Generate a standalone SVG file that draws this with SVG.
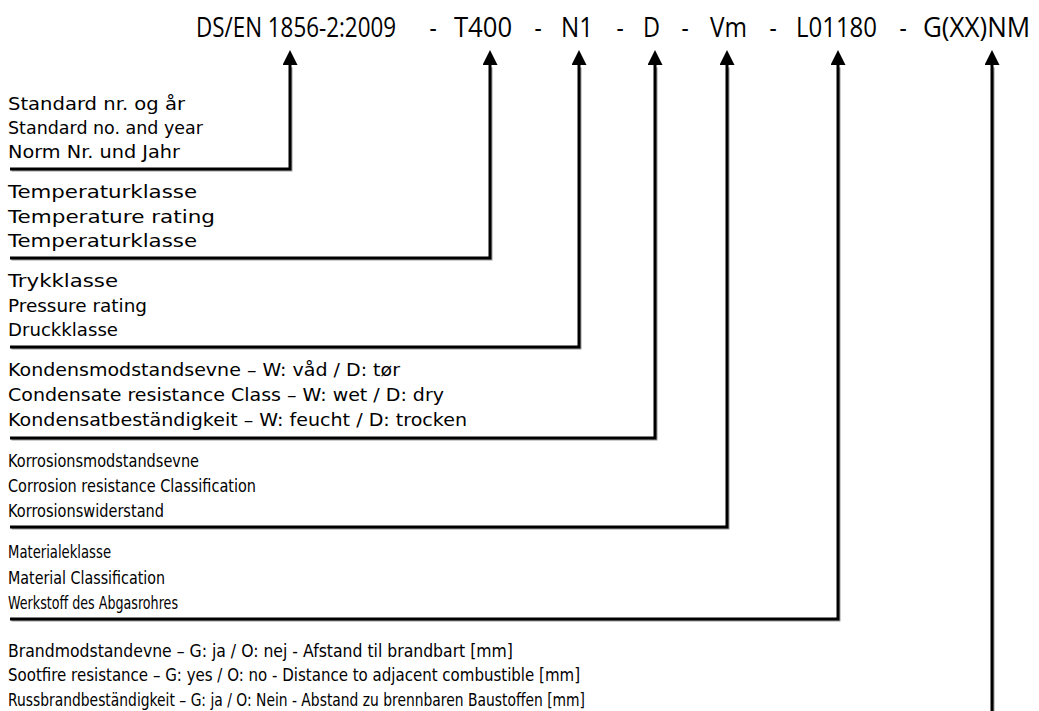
<svg xmlns="http://www.w3.org/2000/svg" width="1039" height="711" viewBox="0 0 1039 711">
<style>
.t{font-family:"Open Sans","Liberation Sans",sans-serif;font-size:27px;fill:#000}
.d{text-anchor:middle}
.l{font-family:"DejaVu Sans","Liberation Sans",sans-serif;font-size:17px;fill:#000}
.c{fill:none;stroke:#000;stroke-width:3}
.s{fill:none;stroke:#9a9a9a;stroke-width:2}
</style>
<defs>
<marker id="ah" viewBox="0 -7.5 15 15" refX="0" refY="0" markerWidth="15" markerHeight="15" markerUnits="userSpaceOnUse" orient="auto">
<path d="M0,-7.5 L15,0 L0,7.5 z" fill="#000"/>
</marker>
</defs>
<rect width="1039" height="711" fill="#fff"/>
<g id="title">
<text class="t" transform="translate(196,37) scale(0.83,1)" textLength="241" lengthAdjust="spacingAndGlyphs">DS/EN 1856-2:2009</text>
<text class="t d" transform="translate(433,37) scale(0.83,1)">-</text>
<text class="t" transform="translate(454,37) scale(0.83,1)" textLength="70" lengthAdjust="spacingAndGlyphs">T400</text>
<text class="t d" transform="translate(538,37) scale(0.83,1)">-</text>
<text class="t" transform="translate(561,37) scale(0.83,1)" textLength="38.6" lengthAdjust="spacingAndGlyphs">N1</text>
<text class="t d" transform="translate(620,37) scale(0.83,1)">-</text>
<text class="t" transform="translate(643,37) scale(0.83,1)" textLength="20.5" lengthAdjust="spacingAndGlyphs">D</text>
<text class="t d" transform="translate(685,37) scale(0.83,1)">-</text>
<text class="t" transform="translate(710,37) scale(0.83,1)" textLength="44.6" lengthAdjust="spacingAndGlyphs">Vm</text>
<text class="t d" transform="translate(773,37) scale(0.83,1)">-</text>
<text class="t" transform="translate(796,37) scale(0.83,1)" textLength="97.6" lengthAdjust="spacingAndGlyphs">L01180</text>
<text class="t d" transform="translate(903,37) scale(0.83,1)">-</text>
<text class="t" transform="translate(923,37) scale(0.83,1)" textLength="129" lengthAdjust="spacingAndGlyphs">G(XX)NM</text>
</g>
<g id="connectors">
<g transform="translate(1.5,1.5)">
<path class="s" d="M10,169 H290 V66"/>
<path class="s" d="M10,258 H490 V66"/>
<path class="s" d="M10,347 H579 V66"/>
<path class="s" d="M10,438 H655 V66"/>
<path class="s" d="M10,527 H727 V66"/>
<path class="s" d="M10,619 H838 V66"/>
<path class="s" d="M992,711 V66"/>
</g>
<path class="c" d="M10,169 H290 V65" marker-end="url(#ah)"/>
<path class="c" d="M10,258 H490 V65" marker-end="url(#ah)"/>
<path class="c" d="M10,347 H579 V65" marker-end="url(#ah)"/>
<path class="c" d="M10,438 H655 V65" marker-end="url(#ah)"/>
<path class="c" d="M10,527 H727 V65" marker-end="url(#ah)"/>
<path class="c" d="M10,619 H838 V65" marker-end="url(#ah)"/>
<path class="c" d="M992,711 V65" marker-end="url(#ah)"/>
</g>
<g id="n1">
<text class="l" x="8" y="110" textLength="177" lengthAdjust="spacingAndGlyphs">Standard nr. og år</text>
<text class="l" x="8" y="134" textLength="195" lengthAdjust="spacingAndGlyphs">Standard no. and year</text>
<text class="l" x="8" y="158" textLength="172" lengthAdjust="spacingAndGlyphs">Norm Nr. und Jahr</text>
</g>
<g id="n2">
<text class="l" x="8" y="198" textLength="189" lengthAdjust="spacingAndGlyphs">Temperaturklasse</text>
<text class="l" x="8" y="223" textLength="207" lengthAdjust="spacingAndGlyphs">Temperature rating</text>
<text class="l" x="8" y="247" textLength="189" lengthAdjust="spacingAndGlyphs">Temperaturklasse</text>
</g>
<g id="n3">
<text class="l" x="8" y="287" textLength="110" lengthAdjust="spacingAndGlyphs">Trykklasse</text>
<text class="l" x="8" y="312" textLength="139" lengthAdjust="spacingAndGlyphs">Pressure rating</text>
<text class="l" x="8" y="336" textLength="110" lengthAdjust="spacingAndGlyphs">Druckklasse</text>
</g>
<g id="n4">
<text class="l" x="8" y="376" textLength="392" lengthAdjust="spacingAndGlyphs">Kondensmodstandsevne – W: våd / D: tør</text>
<text class="l" x="8" y="401" textLength="436" lengthAdjust="spacingAndGlyphs">Condensate resistance Class – W: wet / D: dry</text>
<text class="l" x="8" y="426" textLength="459" lengthAdjust="spacingAndGlyphs">Kondensatbeständigkeit – W: feucht / D: trocken</text>
</g>
<g id="n5">
<text class="l" x="8" y="467" textLength="191" lengthAdjust="spacingAndGlyphs">Korrosionsmodstandsevne</text>
<text class="l" x="8" y="492" textLength="248" lengthAdjust="spacingAndGlyphs">Corrosion resistance Classification</text>
<text class="l" x="8" y="517" textLength="156" lengthAdjust="spacingAndGlyphs">Korrosionswiderstand</text>
</g>
<g id="n6">
<text class="l" x="8" y="558" textLength="103" lengthAdjust="spacingAndGlyphs">Materialeklasse</text>
<text class="l" x="8" y="584" textLength="157" lengthAdjust="spacingAndGlyphs">Material Classification</text>
<text class="l" x="8" y="609" textLength="170" lengthAdjust="spacingAndGlyphs">Werkstoff des Abgasrohres</text>
</g>
<g id="n7">
<text class="l" x="8" y="657" textLength="505" lengthAdjust="spacingAndGlyphs">Brandmodstandevne – G: ja / O: nej - Afstand til brandbart [mm]</text>
<text class="l" x="8" y="681" textLength="572" lengthAdjust="spacingAndGlyphs">Sootfire resistance – G: yes / O: no - Distance to adjacent combustible [mm]</text>
<text class="l" x="8" y="706" textLength="577" lengthAdjust="spacingAndGlyphs">Russbrandbeständigkeit – G: ja / O: Nein - Abstand zu brennbaren Baustoffen [mm]</text>
</g>
</svg>
